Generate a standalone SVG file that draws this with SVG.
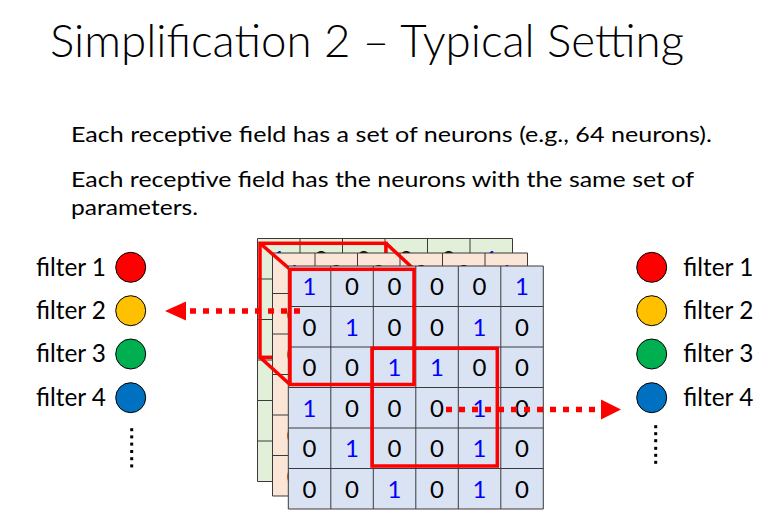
<svg xmlns="http://www.w3.org/2000/svg" xmlns:xlink="http://www.w3.org/1999/xlink" width="775" height="517" viewBox="0 0 775 517">
<style>
  .title{font-family:Lato,"Open Sans","Liberation Sans",sans-serif;font-weight:300;font-size:46px;fill:#000}
  .body{font-family:Lato,"Open Sans","Liberation Sans",sans-serif;font-size:21px;fill:#000}
  .lbl{font-family:Lato,"Open Sans","Liberation Sans",sans-serif;font-size:24.5px;fill:#000}
  .dg{font-family:Lato,"Open Sans","Liberation Sans",sans-serif;font-size:24px;text-anchor:middle}
  .z{fill:#000}
  .o{fill:#0000ff}
  .gl{fill:none;stroke:#3a3a3a;stroke-width:1}
  .red{fill:none;stroke:#ff0000;stroke-width:3.5;stroke-linejoin:miter}
  .dash{fill:none;stroke:#ff0000;stroke-width:5.5;stroke-dasharray:6 7}
  .dot{fill:#000}
  .c{stroke:#000;stroke-width:1}
</style>
<defs>
  <path id="gridlines" class="gl" d="M0 0H255M0 40.5H255M0 81H255M0 121.5H255M0 162H255M0 202.5H255M0 243H255M0 0V243M42.5 0V243M85 0V243M127.5 0V243M170 0V243M212.5 0V243M255 0V243"/>
  <g id="digits" class="dg">
    <text x="21.25" y="29" class="o">1</text><text x="63.75" y="29" class="z">0</text><text x="106.25" y="29" class="z">0</text><text x="148.75" y="29" class="z">0</text><text x="191.25" y="29" class="z">0</text><text x="233.75" y="29" class="o">1</text>
    <text x="21.25" y="69.5" class="z">0</text><text x="63.75" y="69.5" class="o">1</text><text x="106.25" y="69.5" class="z">0</text><text x="148.75" y="69.5" class="z">0</text><text x="191.25" y="69.5" class="o">1</text><text x="233.75" y="69.5" class="z">0</text>
    <text x="21.25" y="110" class="z">0</text><text x="63.75" y="110" class="z">0</text><text x="106.25" y="110" class="o">1</text><text x="148.75" y="110" class="o">1</text><text x="191.25" y="110" class="z">0</text><text x="233.75" y="110" class="z">0</text>
    <text x="21.25" y="150.5" class="o">1</text><text x="63.75" y="150.5" class="z">0</text><text x="106.25" y="150.5" class="z">0</text><text x="148.75" y="150.5" class="z">0</text><text x="191.25" y="150.5" class="o">1</text><text x="233.75" y="150.5" class="z">0</text>
    <text x="21.25" y="191" class="z">0</text><text x="63.75" y="191" class="o">1</text><text x="106.25" y="191" class="z">0</text><text x="148.75" y="191" class="z">0</text><text x="191.25" y="191" class="o">1</text><text x="233.75" y="191" class="z">0</text>
    <text x="21.25" y="231.5" class="z">0</text><text x="63.75" y="231.5" class="z">0</text><text x="106.25" y="231.5" class="o">1</text><text x="148.75" y="231.5" class="z">0</text><text x="191.25" y="231.5" class="o">1</text><text x="233.75" y="231.5" class="z">0</text>
  </g>
</defs>

<g id="title"><text class="title" x="50" y="57" textLength="634" lengthAdjust="spacingAndGlyphs">Simplification 2 – Typical Setting</text></g>
<g id="text">
  <text class="body" x="71" y="142" textLength="641" lengthAdjust="spacingAndGlyphs">Each receptive field has a set of neurons (e.g., 64 neurons).</text>
  <text class="body" x="71" y="187" textLength="623" lengthAdjust="spacingAndGlyphs">Each receptive field has the neurons with the same set of</text>
  <text class="body" x="71" y="215" textLength="127" lengthAdjust="spacingAndGlyphs">parameters.</text>
</g>

<g id="grid-back" transform="translate(257.5 238.5)">
  <rect width="255" height="243" fill="#e2f0d9"/>
  <use xlink:href="#gridlines"/>
  <use xlink:href="#digits"/>
</g>
<g id="field-back"><rect class="red" x="260" y="243.3" width="126" height="114"/></g>
<g id="grid-middle" transform="translate(272.5 253)">
  <rect width="255" height="243" fill="#fbe5d6"/>
  <use xlink:href="#gridlines"/>
  <use xlink:href="#digits"/>
</g>
<g id="field-edges">
  <path class="red" d="M260 243.3L290 269.3M386 243.3L414 269.3M260 357.3L290 384.5"/>
</g>
<g id="grid-front" transform="translate(288.3 266)">
  <rect width="255" height="243" fill="#dae3f3"/>
  <use xlink:href="#gridlines"/>
  <use xlink:href="#digits"/>
</g>
<g id="field-1"><rect class="red" x="290" y="269.3" width="124" height="115.2"/></g>
<g id="field-2"><rect class="red" x="372" y="348.3" width="125.3" height="117.7"/></g>

<g id="filters-left">
  <g id="fl1"><text class="lbl" x="36" y="275.5" textLength="70" lengthAdjust="spacingAndGlyphs">filter 1</text><circle class="c" cx="130.7" cy="267.3" r="15" fill="#ff0000"/></g>
  <g id="fl2"><text class="lbl" x="36" y="319" textLength="70" lengthAdjust="spacingAndGlyphs">filter 2</text><circle class="c" cx="130.7" cy="310.7" r="15" fill="#ffc000"/></g>
  <g id="fl3"><text class="lbl" x="36" y="362.3" textLength="70" lengthAdjust="spacingAndGlyphs">filter 3</text><circle class="c" cx="130.7" cy="354" r="15" fill="#00b050"/></g>
  <g id="fl4"><text class="lbl" x="36" y="406" textLength="70" lengthAdjust="spacingAndGlyphs">filter 4</text><circle class="c" cx="130.7" cy="397.7" r="15" fill="#0070c0"/></g>
  <g id="fl-more" class="dot"><rect x="130.2" y="428.2" width="3" height="3"/><rect x="130.2" y="435.4" width="3" height="3"/><rect x="130.2" y="442.6" width="3" height="3"/><rect x="130.2" y="450" width="3" height="3"/><rect x="130.2" y="457.2" width="3" height="3"/><rect x="130.2" y="464.4" width="3" height="3"/></g>
</g>
<g id="filters-right">
  <g id="fr1"><circle class="c" cx="651.7" cy="267.3" r="15" fill="#ff0000"/><text class="lbl" x="683.3" y="275.5" textLength="70" lengthAdjust="spacingAndGlyphs">filter 1</text></g>
  <g id="fr2"><circle class="c" cx="651.7" cy="310.7" r="15" fill="#ffc000"/><text class="lbl" x="683.3" y="319" textLength="70" lengthAdjust="spacingAndGlyphs">filter 2</text></g>
  <g id="fr3"><circle class="c" cx="651.7" cy="354" r="15" fill="#00b050"/><text class="lbl" x="683.3" y="362.3" textLength="70" lengthAdjust="spacingAndGlyphs">filter 3</text></g>
  <g id="fr4"><circle class="c" cx="651.7" cy="397.7" r="15" fill="#0070c0"/><text class="lbl" x="683.3" y="406" textLength="70" lengthAdjust="spacingAndGlyphs">filter 4</text></g>
  <g id="fr-more" class="dot"><rect x="654.2" y="425.2" width="3" height="3"/><rect x="654.2" y="432.2" width="3" height="3"/><rect x="654.2" y="439.2" width="3" height="3"/><rect x="654.2" y="446.8" width="3" height="3"/><rect x="654.2" y="453.8" width="3" height="3"/><rect x="654.2" y="460.8" width="3" height="3"/></g>
</g>

<g id="connectors">
  <path class="dash" d="M300 311H186"/>
  <polygon points="165,311 186,301.5 186,320.5" fill="#ff0000"/>
  <path class="dash" d="M446 409.5H602"/>
  <polygon points="621,409.5 601,399.5 601,419.5" fill="#ff0000"/>
</g>
</svg>
